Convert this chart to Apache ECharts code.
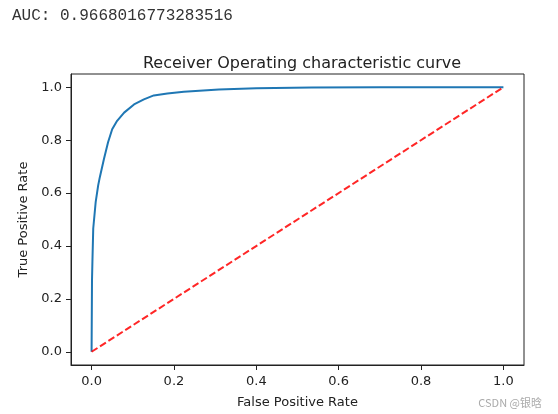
<!DOCTYPE html>
<html>
<head>
<meta charset="utf-8">
<script src="https://cdn.jsdelivr.net/npm/echarts@6/dist/echarts.min.js"></script>
<style>
html,body{margin:0;padding:0;background:#fff;}
#chart{width:558px;height:414px;}
</style>
</head>
<body>
<div id="chart"></div>
<script>
// ROC curve points
const fpr = [0, 0.001, 0.002, 0.004, 0.010, 0.016, 0.020, 0.030, 0.040, 0.050, 0.062, 0.079, 0.103, 0.127, 0.151, 0.184, 0.224, 0.309, 0.400, 0.535, 0.700, 1.0];
const tpr = [0, 0.27, 0.34, 0.466, 0.567, 0.629, 0.66, 0.729, 0.792, 0.841, 0.873, 0.904, 0.935, 0.954, 0.969, 0.976, 0.983, 0.991, 0.996, 0.999, 1.0, 1.0];
const diagX = [0, 1];
const diagY = [0, 1];
const tickValues = [0, 0.2, 0.4, 0.6, 0.8, 1.0];
const aucText = 'AUC: 0.9668016773283516';
const titleText = 'Receiver Operating characteristic curve';
const xName = 'False Positive Rate';
const yName = 'True Positive Rate';
const watermark = 'CSDN @银晗';

const chart = echarts.init(document.getElementById('chart'), null, {renderer: 'canvas'});
const font = 'DejaVu Sans';
const axisCommon = {
  type: 'value',
  min: -0.05,
  max: 1.05,
  nameLocation: 'middle',
  nameTextStyle: {fontFamily: font, fontSize: 13, color: '#222'},
  axisLine: {show: true, onZero: false, lineStyle: {color: '#222', width: 1}},
  axisTick: {show: true, inside: false, length: 5, customValues: tickValues, lineStyle: {color: '#222', width: 1}},
  axisLabel: {show: true, customValues: tickValues, fontFamily: font, fontSize: 13, color: '#222', formatter: v => v.toFixed(1)},
  splitLine: {show: false}
};
chart.setOption({
  animation: false,
  backgroundColor: '#fff',
  title: {
    text: titleText,
    left: 297, textAlign: 'center', top: 51,
    textStyle: {fontFamily: font, fontSize: 16, fontWeight: 'normal', color: '#222'}
  },
  graphic: [{
    type: 'text', left: 12, top: 8,
    style: {text: aucText, font: '16px "Liberation Mono", monospace', fill: '#333'}
  }, {
    type: 'text', right: 16, top: 397,
    style: {text: watermark, font: '11px "Noto Sans CJK SC", sans-serif', fill: '#aaa'}
  }],
  grid: {left: 71, right: 34, top: 74, bottom: 46, show: true, borderColor: '#222', borderWidth: 1, backgroundColor: 'transparent'},
  xAxis: Object.assign({}, axisCommon, {name: xName, nameGap: 31, axisLabel: Object.assign({}, axisCommon.axisLabel, {margin: 10})}),
  yAxis: Object.assign({}, axisCommon, {name: yName, nameGap: 38, nameRotate: 90, axisLabel: Object.assign({}, axisCommon.axisLabel, {margin: 9})}),
  series: [{
    type: 'line',
    data: fpr.map((x, i) => [x, tpr[i]]),
    showSymbol: false, symbol: 'none',
    smooth: false,
    lineStyle: {color: '#1f77b4', width: 2},
    z: 2
  }, {
    type: 'line',
    data: diagX.map((x, i) => [x, diagY[i]]),
    showSymbol: false, symbol: 'none',
    lineStyle: {color: 'rgba(255,0,0,0.85)', width: 2, type: [7, 3]},
    z: 3
  }]
});
</script>
</body>
</html>
